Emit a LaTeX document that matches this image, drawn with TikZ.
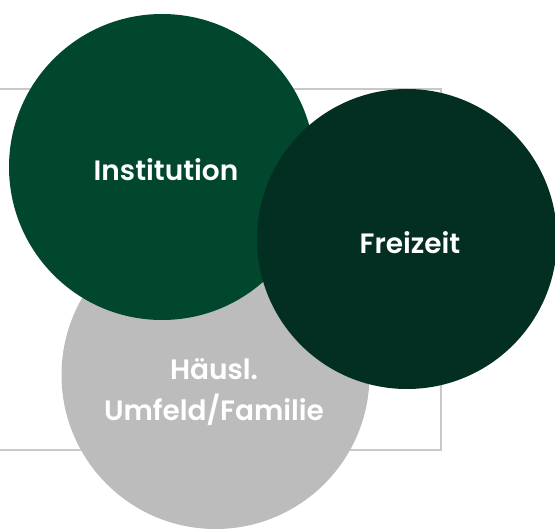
\documentclass[tikz,border=0pt]{standalone}
\usepackage{fontspec}
\setmainfont{Poppins}[BoldFont={Poppins SemiBold}]
\usepackage{xcolor}
\definecolor{instgreen}{RGB}{0,71,46}
\definecolor{freigreen}{RGB}{3,46,34}
\definecolor{homegray}{RGB}{187,188,187}
\definecolor{framegray}{RGB}{200,200,200}

\begin{document}
\begin{tikzpicture}[x=1pt,y=-1pt,
  ring/.style={circle,inner sep=0pt,text=white,align=center,
               font=\fontsize{28}{41}\selectfont\bfseries}]
  \useasboundingbox (0,0) rectangle (555,529);
  \draw[framegray,line width=2pt](-5,89) rectangle (440.5,450);
  \node[ring,fill=homegray,minimum size=308pt] (home) at (215.5,375){};
  \node[ring,fill=instgreen,minimum size=306pt] (inst) at (162,167){};
  \node[ring,fill=freigreen,minimum size=300pt] (frei) at (407,239){};
  % labels
  \node[ring] (homelbl) at (214,392){Häusl.\\Umfeld/Familie};
  \node[ring] (instlbl) at (166,170){Institution};
  \node[ring] (freilbl) at (410,243){Freizeit};
\end{tikzpicture}
\end{document}
